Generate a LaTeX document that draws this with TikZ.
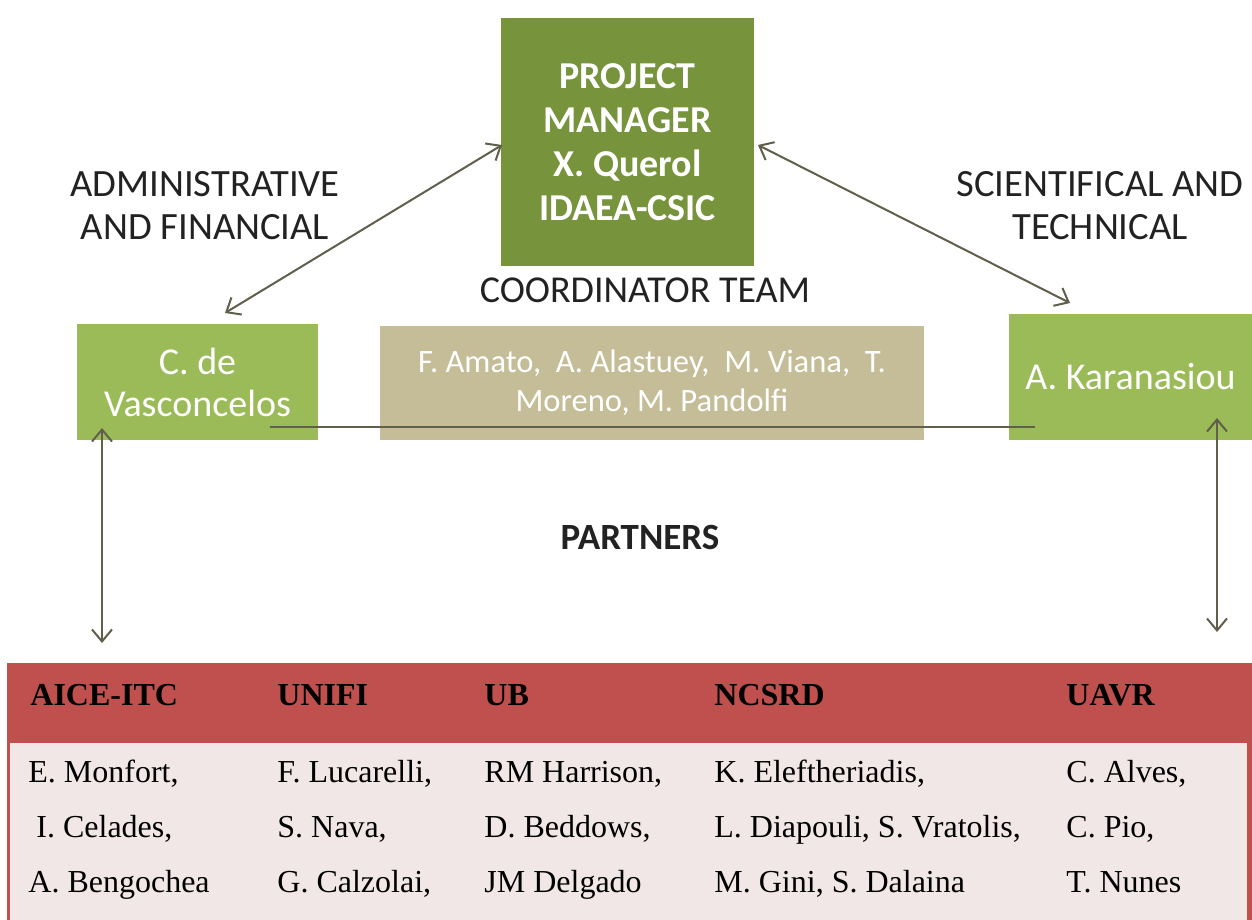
\documentclass[tikz,border=0pt]{standalone}
\usepackage{fontspec}
\setmainfont{Carlito}
\newfontfamily\tabfont{Liberation Serif}
\usetikzlibrary{arrows.meta}
\definecolor{pmgreen}{HTML}{77933C}
\definecolor{litegreen}{HTML}{9BBB59}
\definecolor{teamtan}{HTML}{C4BD97}
\definecolor{hdrred}{HTML}{C0504D}
\definecolor{rowpink}{HTML}{F2E7E7}
\definecolor{linkgray}{HTML}{5F5F4C}
\definecolor{labelgray}{HTML}{222222}

\begin{document}
\begin{tikzpicture}[x=0.5pt,y=-0.5pt,
  box/.style={inner sep=0pt, text=white, align=center},
  pmbox/.style={box, fill=pmgreen, minimum width=126.5pt, minimum height=124pt,
    font=\fontsize{19}{22}\selectfont\bfseries},
  personbox/.style={box, fill=litegreen, font=\fontsize{19}{21}\selectfont},
  teambox/.style={box, fill=teamtan, minimum width=272pt, minimum height=57pt,
    font=\fontsize{16.3}{19.5}\selectfont},
  caption/.style={inner sep=0pt, text=labelgray, align=center,
    font=\fontsize{19.3}{21.5}\selectfont},
  link/.style={draw=linkgray, line width=1pt},
  twoway/.style={link, {Straight Barb[length=6pt,width=10pt]}-{Straight Barb[length=6pt,width=10pt]}},
  hdr/.style={anchor=base west, inner sep=0pt, font=\tabfont\fontsize{16}{19}\selectfont\bfseries},
  cell/.style={anchor=base west, inner sep=0pt, font=\tabfont\fontsize{16}{19}\selectfont},
]
\useasboundingbox (0,0) rectangle (1252,920);
\fill[white] (0,0) rectangle (1252,920);

% coordinator boxes
\node[pmbox] (pm) at (627.5,142) {PROJECT\\MANAGER\\X. Querol\\IDAEA-CSIC};
\node[personbox, minimum width=120.5pt, minimum height=58pt] (vasc) at (197.5,382) {C. de\\Vasconcelos};
\node[teambox] (team) at (652,383) {F. Amato, \ A. Alastuey, \ M. Viana, \ T.\\Moreno, M. Pandolfi};
\node[personbox, minimum width=121.5pt, minimum height=63pt] (kara) at (1130.5,377) {A. Karanasiou};

% captions
\node[caption] (admin) at (205,206) {ADMINISTRATIVE\\AND FINANCIAL};
\node[caption] (scitech) at (1100,206) {SCIENTIFICAL AND\\TECHNICAL};
\node[caption, font=\fontsize{19}{21}\selectfont] (coord) at (645,290) {COORDINATOR TEAM};
\node[caption, font=\fontsize{18.5}{21}\selectfont\bfseries] (partners) at (640,537) {PARTNERS};

% connector end points
\coordinate (pmL) at (502,145);
\coordinate (pmR) at (758,145);
\coordinate (vascTop) at (225,313);
\coordinate (karaTop) at (1070,303);
\coordinate (vascIn) at (270,427);
\coordinate (karaIn) at (1035,427);
\coordinate (vascUp) at (102,428);
\coordinate (vascDown) at (102,643);
\coordinate (karaUp) at (1217,418);
\coordinate (karaDown) at (1217,632);

\draw[twoway] (pmL) -- (vascTop);
\draw[twoway] (pmR) -- (karaTop);
\draw[link] (vascIn) -- (karaIn);
\draw[twoway] (vascUp) -- (vascDown);
\draw[twoway] (karaUp) -- (karaDown);

% partners table
\fill[hdrred] (7,663) rectangle (1252,920);
\fill[rowpink] (10,743) rectangle (1247,920);

\node[hdr] (h1) at (30,705) {AICE-ITC};
\node[hdr] (h2) at (277,705) {UNIFI};
\node[hdr] (h3) at (484,705) {UB};
\node[hdr] (h4) at (714,705) {NCSRD};
\node[hdr] (h5) at (1066,705) {UAVR};

\node[cell] (a1) at (28,782) {E. Monfort,};
\node[cell] (a2) at (28,837) {\ I. Celades,};
\node[cell] (a3) at (28,892) {A. Bengochea};
\node[cell] (b1) at (277,782) {F. Lucarelli,};
\node[cell] (b2) at (277,837) {S. Nava,};
\node[cell] (b3) at (277,892) {G. Calzolai,};
\node[cell] (c1) at (484,782) {RM Harrison,};
\node[cell] (c2) at (484,837) {D. Beddows,};
\node[cell] (c3) at (484,892) {JM Delgado};
\node[cell] (d1) at (714,782) {K. Eleftheriadis,};
\node[cell] (d2) at (714,837) {L. Diapouli, S. Vratolis,};
\node[cell] (d3) at (714,892) {M. Gini, S. Dalaina};
\node[cell] (e1) at (1066,782) {C. Alves,};
\node[cell] (e2) at (1066,837) {C. Pio,};
\node[cell] (e3) at (1066,892) {T. Nunes};
\end{tikzpicture}
\end{document}
